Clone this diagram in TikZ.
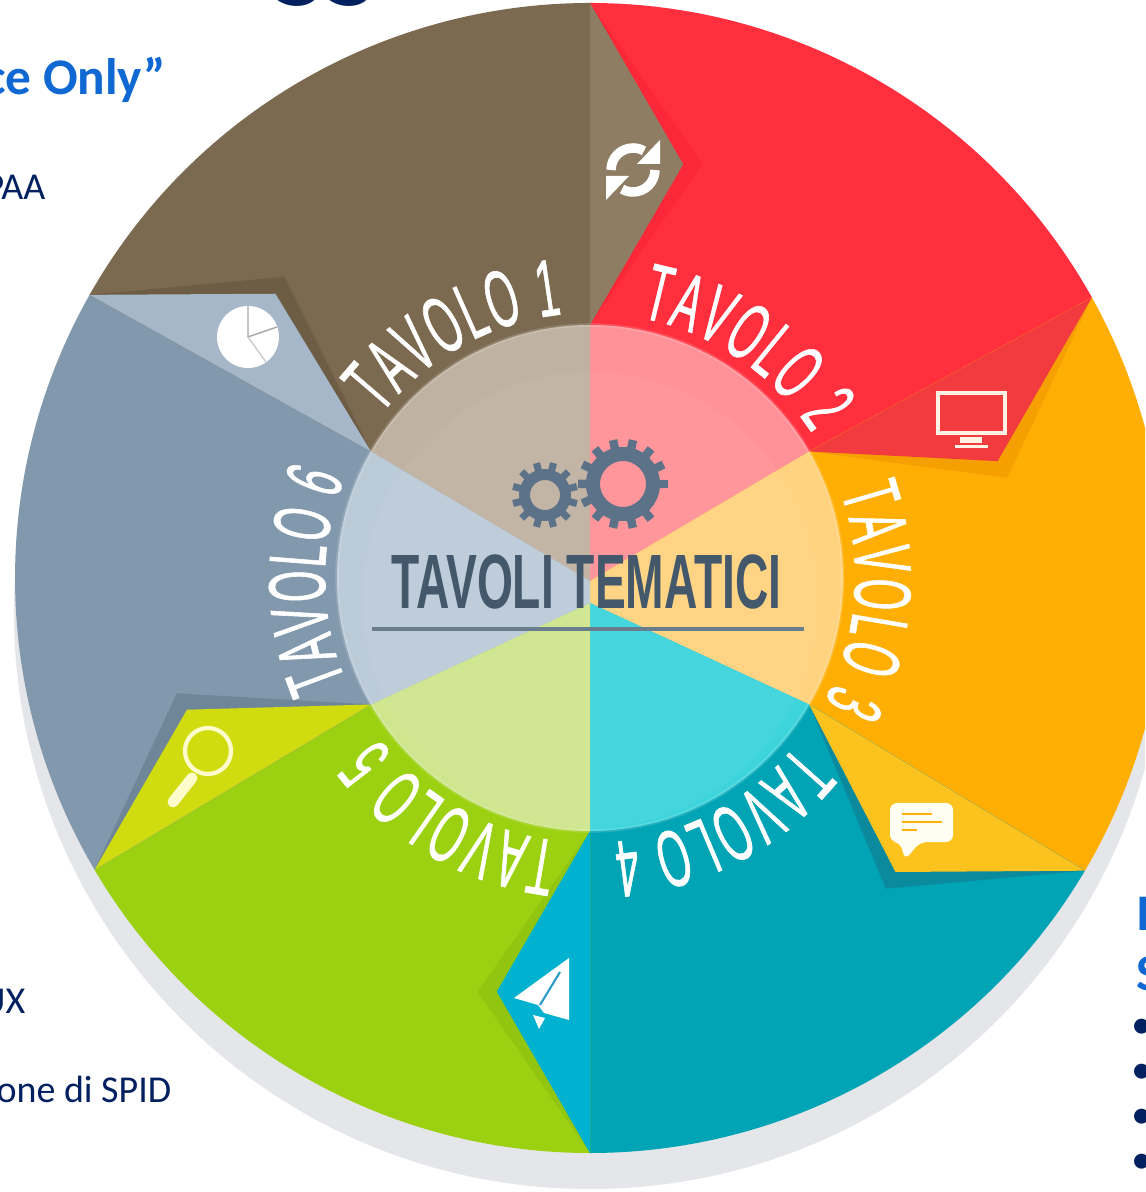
\documentclass[tikz,border=0pt]{standalone}
\usepackage{fontspec}
\usetikzlibrary{calc,decorations.text}
\newfontfamily\calface{Carlito}
\newfontfamily\tavface[FakeStretch=0.5,FakeBold=0.7]{Liberation Sans}
\newfontfamily\titleface[FakeStretch=0.6]{Liberation Sans}
\newcommand\tavfont{\fontsize{23}{24}\selectfont\tavface}
\definecolor{navy}{HTML}{002060}
\definecolor{headblue}{HTML}{1068D2}
\definecolor{gearblue}{HTML}{5C7288}
\definecolor{titleblue}{HTML}{44586C}
\definecolor{ruleblue}{HTML}{6A7D8C}
\definecolor{shadowgray}{HTML}{E4E6EA}
\tikzset{
  tavlabel/.style={decorate, decoration={text along path, text align={fit to path}, text color=white}},
  head/.style={inner sep=0pt, text=headblue, font=\calface\bfseries\fontsize{14.6}{16}\selectfont},
  body/.style={inner sep=0pt, text=navy, font=\calface\fontsize{10.8}{12}\selectfont}
}
\begin{document}
\begin{tikzpicture}[x=0.01cm,y=0.01cm]
  \clip (-590,-614) rectangle (555,578) ;
  \fill[white] (-590,-614) rectangle (555,578) ;
  \fill[shadowgray] (0,-35) circle (576) ;

  % outer sectors
  \foreach \a/\o/\n/\base in {150/150.5/90/7C6A50, 90/90/29.2/FF2F3E, 30/29.2/-30.6/FFAE03, -30/-30.6/-90/00A4B4, -90/-90/-149.5/9CD111, -150/-149.5/-209.5/8299AD} {
    \definecolor{wedgecol}{HTML}{\base}
    \fill[wedgecol] (0,0) -- (\a:253) -- (\o:575) arc (\o:\n:575) -- (\a-60:253) -- cycle ;
  }
  % inner sectors
  \foreach \a/\p/\q/\inner in {150/-3/-3/C0B2A2, 90/-3/-3/FF9298, 30/-3/-25/FFD37F, -30/-25/-25/3DD4DC, -90/-25/-25/CFE68F, -150/-25/-3/BCCBD8} {
    \definecolor{innercol}{HTML}{\inner}
    \fill[innercol] (0,\p) -- (\a:253) arc (\a:\a-60:253) -- (0,\q) -- cycle ;
  }
  % tabs with their shadows
  \foreach \a/\o/\ap/\dark/\tab in {150/150.5/137.9/6E5D45/A5B7C9, 90/90/77.3/FA2838/8E7D62, 30/29.2/16/F59F00/F23B3F, -30/-30.6/-43.9/0A8A9C/FCC21E, -90/-90/-102.7/92C510/00B2CF, -150/-149.5/-161.9/6F8698/D0DC10} {
    \definecolor{darkcol}{HTML}{\dark}
    \definecolor{tabcol}{HTML}{\tab}
    \fill[darkcol] (\o:575) -- (\ap-2.5:429) -- (\a:253) -- cycle ;
    \fill[tabcol] (\o:575) -- (\ap:424) -- (\a:253) -- cycle ;
  }
  \fill[white,opacity=.04] (0,-22) circle (228) ;
  \draw[white,opacity=.15,line width=1pt] (0,0) circle (253) ;

  \path[tavlabel,decoration={text={|\tavfont|TAVOLO 1}}] (142:265) arc (142:96:265) ;
  \path[tavlabel,decoration={text={|\tavfont|TAVOLO 2}}] (79:265) arc (79:33:265) ;
  \path[tavlabel,decoration={text={|\tavfont|TAVOLO 3}}] (19:265) arc (19:-28:265) ;
  \path[tavlabel,decoration={text={|\tavfont|TAVOLO 4}}] (-39:265) arc (-39:-85:265) ;
  \path[tavlabel,decoration={text={|\tavfont|TAVOLO 5}}] (-97:265) arc (-97:-143:265) ;
  \path[tavlabel,decoration={text={|\tavfont|TAVOLO 6}}] (203:265) arc (203:158:265) ;

  % gears
  \draw[gearblue,line width=4pt] (33,94) circle (30) ;
  \foreach \t in {0,25.7,...,334} \draw[gearblue,line width=2.4pt] ($(33,94)+(\t:34)$) -- ($(33,94)+(\t:45)$) ;
  \draw[gearblue,line width=3.1pt] (-45,83) circle (20.5) ;
  \foreach \t in {15,45,...,345} \draw[gearblue,line width=2pt] ($(-45,83)+(\t:24)$) -- ($(-45,83)+(\t:33)$) ;

  \node[anchor=base,inner sep=0pt,text=titleblue,font=\titleface\bfseries\fontsize{21.9}{24}\selectfont] (title) at (-3.5,-31) {TAVOLI TEMATICI} ;
  \draw[ruleblue,line width=1.4pt] (-218,-51) -- (214,-51) ;

  % refresh icon
  \foreach \r in {0,180} {
    \begin{scope}[shift={(43,408)},rotate=\r]
      \draw[white,line width=2.7pt] (180:22) arc (180:60:22) ;
      \fill[white] (27,30) -- (27,6) -- (4,6) -- cycle ;
    \end{scope}
  }
  % pie icon
  \fill[white] (-342,241) circle (31) ;
  \draw[gray!70,line width=.4pt] (-342,272) -- (-342,241) -- (-313,251) ;
  \draw[gray!40,line width=.4pt] (-342,241) -- (-324,216) ;
  % monitor icon
  \draw[white!90!orange,line width=1.1pt] (348,185) rectangle (415,145) ;
  \fill[white!90!orange] (370,141) rectangle (392,135) ;
  \fill[white!90!orange] (365,133) rectangle (398,130) ;
  % chat icon
  \fill[white!95!yellow,rounded corners=2pt] (300,-225) -- (363,-225) -- (363,-264) -- (330,-264) -- (315,-282) -- (310,-264) -- (300,-264) -- cycle ;
  \draw[orange!60!yellow,line width=.6pt] (312,-236) -- (342,-236) ;
  \draw[orange!60!yellow,line width=.6pt] (312,-244) -- (352,-244) ;
  \draw[orange!60!yellow,line width=.6pt] (312,-252) -- (327,-252) ;
  % plane icon
  \fill[white] (-21,-380) -- (-76,-420) -- (-52,-427) -- (-46,-435) -- (-21,-442) -- cycle ;
  \fill[white] (-57,-437) -- (-45,-440) -- (-51,-451) -- cycle ;
  \draw[cyan!60!teal,line width=.6pt] (-30,-394) -- (-50,-427) ;
  % magnifier icon
  \draw[white!80!yellow,line width=1.2pt] (-382,-173) circle (23) ;
  \draw[white!80!yellow,line width=3.1pt,line cap=round] (-398,-200) -- (-417,-224) ;

  % text at the picture edges
  \node[head,anchor=base east] (only) at (-423,483) {ce Only”} ;
  \node[body,anchor=base east] (paa) at (-544,378) {PAA} ;
  \node[body,anchor=base east] (ux) at (-564,-435) {UX} ;
  \node[body,anchor=base east] (spid) at (-418,-524) {one di SPID} ;
  \node[anchor=base west,inner sep=0pt,text=navy,font=\calface\bfseries\fontsize{37}{39}\selectfont] (top) at (-318,572) {ss} ;
  \node[head,anchor=base west] (rone) at (546,-352) {I} ;
  \node[head,anchor=base west] (rtwo) at (546,-412) {S} ;
  \foreach \y/\n in {-451/ba,-496/bb,-541/bc,-586/bd} \node[inner sep=0pt,text=navy,font=\calface\fontsize{12}{14}\selectfont] (\n) at (552,\y) {•} ;
\end{tikzpicture}
\end{document}
